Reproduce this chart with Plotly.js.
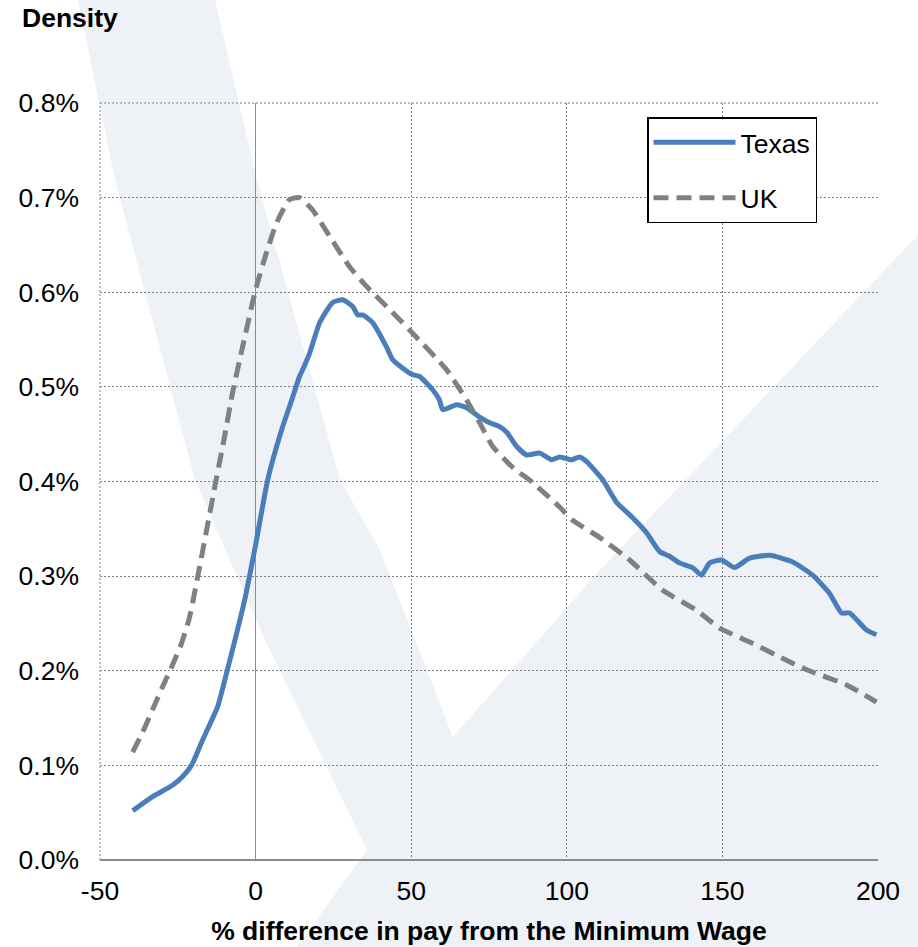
<!DOCTYPE html>
<html>
<head>
<meta charset="utf-8">
<script src="https://cdn.plot.ly/plotly-3.0.1.min.js"></script>
<style>html,body{margin:0;padding:0;background:#fff;}#chart{width:918px;height:947px;}</style>
</head>
<body>
<div id="chart"></div>
<script>
// ---- data (x: % difference from minimum wage, y: density in %) ----
const texasX = [-39.5,-33.1,-26.7,-23.5,-20.6,-17.0,-12.2,-9.3,-3.5,0,3.9,8.4,11.6,14.1,15.1,17.4,20.6,24.7,28.0,31.2,32.8,34.4,37.6,42.1,44.0,47.2,50.4,52.7,56.9,59.1,60.1,64.6,67.8,72.0,75.2,78.4,80.7,83.9,87.1,91.3,95.1,97.7,101.5,104.1,106.4,111.5,116.0,121.1,125.6,129.8,133.0,136.2,140.4,143.3,145.9,149.7,153.9,158.7,165.2,172.6,179.0,184.4,188.3,190.9,196.3,199.5];
const texasY = [0.052,0.067,0.079,0.088,0.100,0.127,0.162,0.198,0.275,0.333,0.402,0.455,0.486,0.511,0.518,0.536,0.568,0.589,0.592,0.585,0.576,0.576,0.568,0.542,0.529,0.520,0.513,0.511,0.497,0.486,0.476,0.481,0.478,0.468,0.462,0.458,0.452,0.437,0.428,0.430,0.423,0.426,0.423,0.426,0.421,0.402,0.378,0.362,0.346,0.326,0.321,0.314,0.309,0.301,0.314,0.317,0.309,0.319,0.322,0.315,0.301,0.282,0.261,0.261,0.243,0.238];

const ukX = [-39.5,-36.3,-33.1,-29.9,-26.7,-23.8,-21.2,-12.5,-10.0,-7.4,-4.2,-1.0,0.6,3.5,6.7,10.9,14.1,18.3,23.8,30.2,35.7,42.1,46.3,50.4,61.4,67.8,72.0,76.2,82.6,89.0,97.7,101.9,110.5,120.2,130.8,141.7,149.1,159.7,170.6,177.1,189.9,199.5];
const ukY = [0.114,0.135,0.159,0.183,0.206,0.229,0.257,0.405,0.447,0.494,0.542,0.589,0.610,0.642,0.673,0.698,0.700,0.687,0.659,0.627,0.606,0.585,0.571,0.557,0.518,0.486,0.462,0.437,0.415,0.399,0.373,0.359,0.341,0.317,0.285,0.264,0.245,0.229,0.211,0.201,0.185,0.167];

const seriesNames = ["Texas", "UK"];
const xTickVals = [-50, 0, 50, 100, 150, 200];
const xTickText = ["-50", "0", "50", "100", "150", "200"];
const yTickVals = [0, 0.1, 0.2, 0.3, 0.4, 0.5, 0.6, 0.7, 0.8];
const yTickText = ["0.0%", "0.1%", "0.2%", "0.3%", "0.4%", "0.5%", "0.6%", "0.7%", "0.8%"];

// ---- layout geometry ----
const W = 918, H = 947;
const M = {l: 100, r: 40, t: 103, b: 87};
const PW = W - M.l - M.r, PH = H - M.t - M.b;
function px2paper(p) { return [(p[0] - M.l) / PW, (H - M.b - p[1]) / PH]; }

// background watermark outline (page pixels)
const watermarkOutline = [[78,0],[115,180],[195,480],[265,640],[367,850],[297,947],[918,947],[918,235],[600,570],[453,737],[380,550],[340,480],[257,180],[215,0]];
const wmPath = watermarkOutline.map((p, i) => {
  const q = px2paper(p);
  return (i === 0 ? 'M' : 'L') + q[0].toFixed(4) + ',' + q[1].toFixed(4);
}).join(' ') + ' Z';

const FONT = 'Liberation Sans, Arial, sans-serif';
const FS = 26.5;

const traces = [
  {x: texasX, y: texasY, name: seriesNames[0], type: 'scatter', mode: 'lines', legendgroup: 'a',
   line: {color: '#4a7ebb', width: 5, shape: 'spline', smoothing: 0.5}},
  {x: ukX, y: ukY, name: seriesNames[1], type: 'scatter', mode: 'lines', legendgroup: 'b',
   line: {color: '#808080', width: 5, dash: '15px,8px', shape: 'spline', smoothing: 0.5}}
];

const layout = {
  width: W, height: H,
  margin: M,
  paper_bgcolor: '#ffffff',
  plot_bgcolor: 'rgba(0,0,0,0)',
  font: {family: FONT, size: FS, color: '#000'},
  showlegend: true,
  legend: {
    x: (647 - M.l) / PW, y: (H - M.b - 117) / PH, xanchor: 'left', yanchor: 'top',
    bgcolor: '#ffffff', bordercolor: '#000000', borderwidth: 1.5,
    font: {family: FONT, size: FS, color: '#000'},
    traceorder: 'grouped', tracegroupgap: 18, itemwidth: 82
  },
  xaxis: {
    range: [-50, 200], tickvals: xTickVals, ticktext: xTickText, ticks: '', ticklabelstandoff: 12,
    showgrid: true, gridcolor: '#7f7f7f', gridwidth: 1, griddash: '2px,2px',
    zeroline: true, zerolinecolor: '#8c8c8c', zerolinewidth: 1.5,
    showline: false, fixedrange: true,
    tickfont: {family: FONT, size: FS, color: '#000'},
    title: {text: '<b>% difference in pay from the Minimum Wage</b>', standoff: 16,
            font: {family: FONT, size: FS, color: '#000'}}
  },
  yaxis: {
    range: [0, 0.8], tickvals: yTickVals, ticktext: yTickText, ticks: '', ticklabelstandoff: 20,
    showgrid: true, gridcolor: '#7f7f7f', gridwidth: 1, griddash: '2px,2px',
    zeroline: true, zerolinecolor: '#8c8c8c', zerolinewidth: 1.5,
    showline: false, fixedrange: true,
    tickfont: {family: FONT, size: FS, color: '#000'}
  },
  shapes: [
    {type: 'path', xref: 'paper', yref: 'paper', path: wmPath, layer: 'below',
     fillcolor: '#eef2f6', line: {width: 0}},
    {type: 'line', xref: 'paper', yref: 'paper', x0: 0, x1: 1, y0: 1, y1: 1, layer: 'below',
     line: {color: '#7f7f7f', width: 1, dash: '2px,2px'}},
    {type: 'line', xref: 'paper', yref: 'paper', x0: 0, x1: 0, y0: 0, y1: 1, layer: 'below',
     line: {color: '#7f7f7f', width: 1, dash: '2px,2px'}}
  ],
  annotations: [
    {text: '<b>Density</b>', xref: 'paper', yref: 'paper', x: (20 - M.l) / PW, y: (H - M.b - 18) / PH,
     xanchor: 'left', yanchor: 'middle', showarrow: false, font: {family: FONT, size: FS, color: '#000'}}
  ]
};

Plotly.newPlot('chart', traces, layout, {displayModeBar: false, staticPlot: true});
</script>
</body>
</html>
